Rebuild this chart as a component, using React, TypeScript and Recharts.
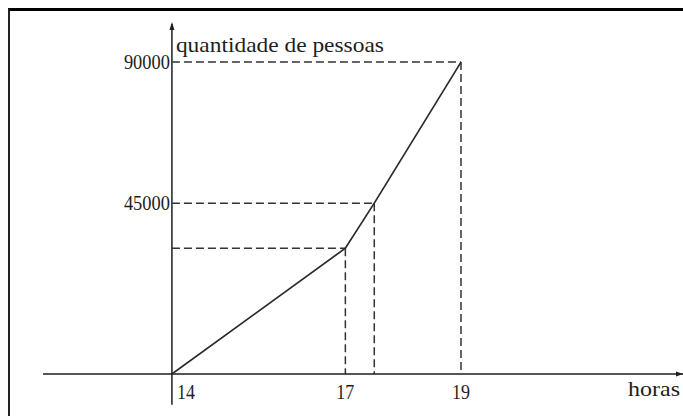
import React from "react";
import { LineChart, Line, XAxis, YAxis, ReferenceLine, ReferenceDot } from "recharts";

// hours on the horizontal axis
const hours = [14, 17, 17.5, 19];
// people (plotted height as drawn in the picture)
const people = [0, 36300, 49300, 90000];
// tick labels
const xTicks = [14, 17, 19];
const yGuideLabels = ["", "45000", "90000"];
const xTitle = "horas";
const yTitle = "quantidade de pessoas";

const X_DOMAIN: [number, number] = [11.77, 22.84];
const Y_DOMAIN: [number, number] = [0, 101000];
const Y_AXIS_BOTTOM = -8900;

const data = hours.map((h, i) => ({ x: h, y: people[i] }));
const guides = data.slice(1).map((d, i) => ({ ...d, label: yGuideLabels[i] }));

const FONT = "'Liberation Serif', 'Times New Roman', serif";
const INK = "#1e1e1e";
const FS = 21;

const XTick = (props: any) => {
  const { x, y, payload } = props;
  const first = payload.value === hours[0];
  return (
    <text
      x={first ? x + 5 : x}
      y={y + 17}
      textAnchor={first ? "start" : "middle"}
      fontFamily={FONT}
      fontSize={FS}
      fill={INK}
      textLength={18}
      lengthAdjust="spacingAndGlyphs"
    >
      {payload.value}
    </text>
  );
};

const GuideLabel = (text: string) => (props: any) => {
  const vb = props.viewBox || {};
  if (!text) return null;
  return (
    <text
      x={vb.x - 2}
      y={vb.y + 7}
      textAnchor="end"
      fontFamily={FONT}
      fontSize={FS}
      fill={INK}
      textLength={46}
      lengthAdjust="spacingAndGlyphs"
    >
      {text}
    </text>
  );
};

const UpArrow = (props: any) => {
  const { cx, cy } = props;
  return (
    <g>
      <path d={`M${cx},${cy - 2} L${cx - 2.5},${cy + 6} L${cx + 2.5},${cy + 6} Z`} fill={INK} />
      <text
        x={cx + 4}
        y={cy + 28}
        fontFamily={FONT}
        fontSize={FS}
        fill={INK}
        textLength={208}
        lengthAdjust="spacingAndGlyphs"
      >
        {yTitle}
      </text>
    </g>
  );
};

const RightArrow = (props: any) => {
  const { cx, cy } = props;
  return (
    <g>
      <path d={`M${cx},${cy} L${cx - 7},${cy - 2.5} L${cx - 7},${cy + 2.5} Z`} fill={INK} />
      <text
        x={cx - 55}
        y={cy + 22}
        fontFamily={FONT}
        fontSize={FS}
        fill={INK}
        textLength={52}
        lengthAdjust="spacingAndGlyphs"
      >
        {xTitle}
      </text>
    </g>
  );
};

export default function App() {
  return (
    <div style={{ position: "absolute", left: 0, top: 0, width: 683, height: 416, overflow: "hidden", background: "#fff" }}>
      <div
        style={{
          position: "absolute",
          left: 8,
          top: 8,
          width: 700,
          height: 420,
          borderTop: "3px solid #000",
          borderLeft: "2px solid #222",
          boxSizing: "border-box",
        }}
      />
      <div style={{ position: "absolute", left: 0, top: 0 }}>
        <LineChart width={683} height={416} data={data} margin={{ top: 24, right: 0, bottom: 0, left: 43 }}>
          <XAxis
            type="number"
            dataKey="x"
            domain={X_DOMAIN}
            ticks={xTicks}
            allowDataOverflow
            axisLine={{ stroke: INK, strokeWidth: 1.5 }}
            tickLine={false}
            tick={<XTick />}
            height={42}
            interval={0}
          />
          <YAxis type="number" dataKey="y" domain={Y_DOMAIN} allowDataOverflow hide width={0} />
          <ReferenceLine
            segment={[{ x: hours[0], y: Y_AXIS_BOTTOM }, { x: hours[0], y: Y_DOMAIN[1] }]}
            stroke={INK}
            strokeWidth={1.5}
            ifOverflow="visible"
          />
          {guides.map((g, i) => (
            <ReferenceLine
              key={"h" + i}
              segment={[{ x: hours[0], y: g.y }, { x: g.x, y: g.y }]}
              stroke="#333"
              strokeWidth={1.5}
              strokeDasharray="8 4"
              ifOverflow="visible"
              label={GuideLabel(g.label)}
            />
          ))}
          {guides.map((g, i) => (
            <ReferenceLine
              key={"v" + i}
              segment={[{ x: g.x, y: g.y }, { x: g.x, y: 0 }]}
              stroke="#333"
              strokeWidth={1.5}
              strokeDasharray="8 4"
              ifOverflow="visible"
            />
          ))}
          <Line
            type="linear"
            dataKey="y"
            stroke="#2a2a2a"
            strokeWidth={1.7}
            dot={false}
            isAnimationActive={false}
          />
          <ReferenceDot x={hours[0]} y={Y_DOMAIN[1]} r={0} ifOverflow="visible" shape={<UpArrow />} />
          <ReferenceDot x={X_DOMAIN[1]} y={0} r={0} ifOverflow="visible" shape={<RightArrow />} />
        </LineChart>
      </div>
    </div>
  );
}
